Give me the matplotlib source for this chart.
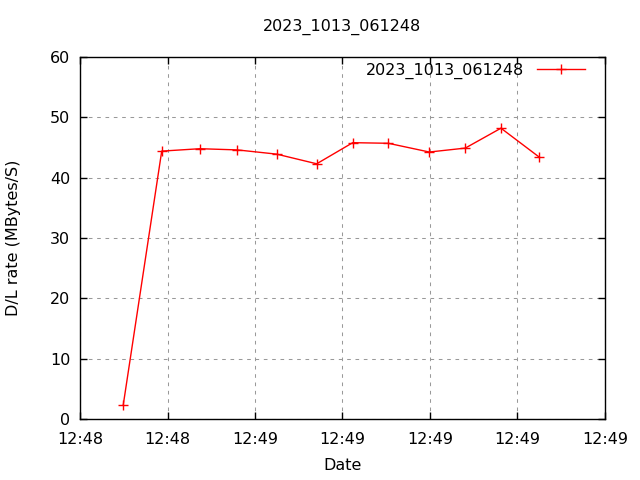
import matplotlib
matplotlib.use("Agg")
import matplotlib.pyplot as plt
import matplotlib.dates as mdates
from datetime import datetime, timedelta

title = "2023_1013_061248"
series_label = "2023_1013_061248"
# seconds after 12:48:00
seconds = [44.95, 49.34, 53.71, 57.98, 62.48, 67.05, 71.17, 75.23, 79.92, 84.03, 88.11, 92.49]
rates = [2.4, 44.4, 44.8, 44.6, 43.9, 42.3, 45.8, 45.7, 44.25, 44.9, 48.2, 43.4]
y_ticks = [0, 10, 20, 30, 40, 50, 60]
x_range_sec = [40, 100]
x_tick_step = 10

base = datetime(2023, 10, 13, 12, 48, 0)
times = [base + timedelta(seconds=s) for s in seconds]

plt.rcParams['font.family'] = ['DejaVu Sans']
fig = plt.figure(figsize=(6.4, 4.8), dpi=100)
ax = fig.add_axes([80/640, 1-419/480, (605-80)/640, (419-57)/480])

ax.plot(times, rates, color='red', linewidth=1, marker='+', markersize=7,
        markeredgewidth=1, label=series_label)

ax.set_xlim(base + timedelta(seconds=x_range_sec[0]), base + timedelta(seconds=x_range_sec[1]))
ax.set_ylim(y_ticks[0], y_ticks[-1])
ax.set_yticks(y_ticks)
ax.xaxis.set_major_locator(mdates.SecondLocator(bysecond=range(0, 60, x_tick_step)))
ax.xaxis.set_major_formatter(mdates.DateFormatter('%H:%M'))

ax.grid(True, color='#999999', linestyle=(0, (3.5, 4.5)), linewidth=0.75)
ax.tick_params(direction='in', length=5, width=1, top=True, right=True,
               labelsize=11.5, colors='black', pad=7)
ax.tick_params(axis='x', pad=9)
for s in ax.spines.values():
    s.set_linewidth(1)
    s.set_color('black')

fig.text(342.5/640, 1-27/480, title, ha='center', va='center', fontsize=11.5)
fig.text(342.5/640, 1-465/480, "Date", ha='center', va='center', fontsize=11.5)
fig.text(14/640, 1-238/480, "D/L rate (MBytes/S)", ha='center', va='center',
         rotation=90, fontsize=11.5)

leg = ax.legend(loc='upper right', frameon=False, fontsize=11.5, markerfirst=False,
                handlelength=3.0, handletextpad=0.8, borderpad=0, borderaxespad=0,
                bbox_to_anchor=(585/640, 1-63/480), bbox_transform=fig.transFigure)

fig.savefig("out.png", dpi=100)
